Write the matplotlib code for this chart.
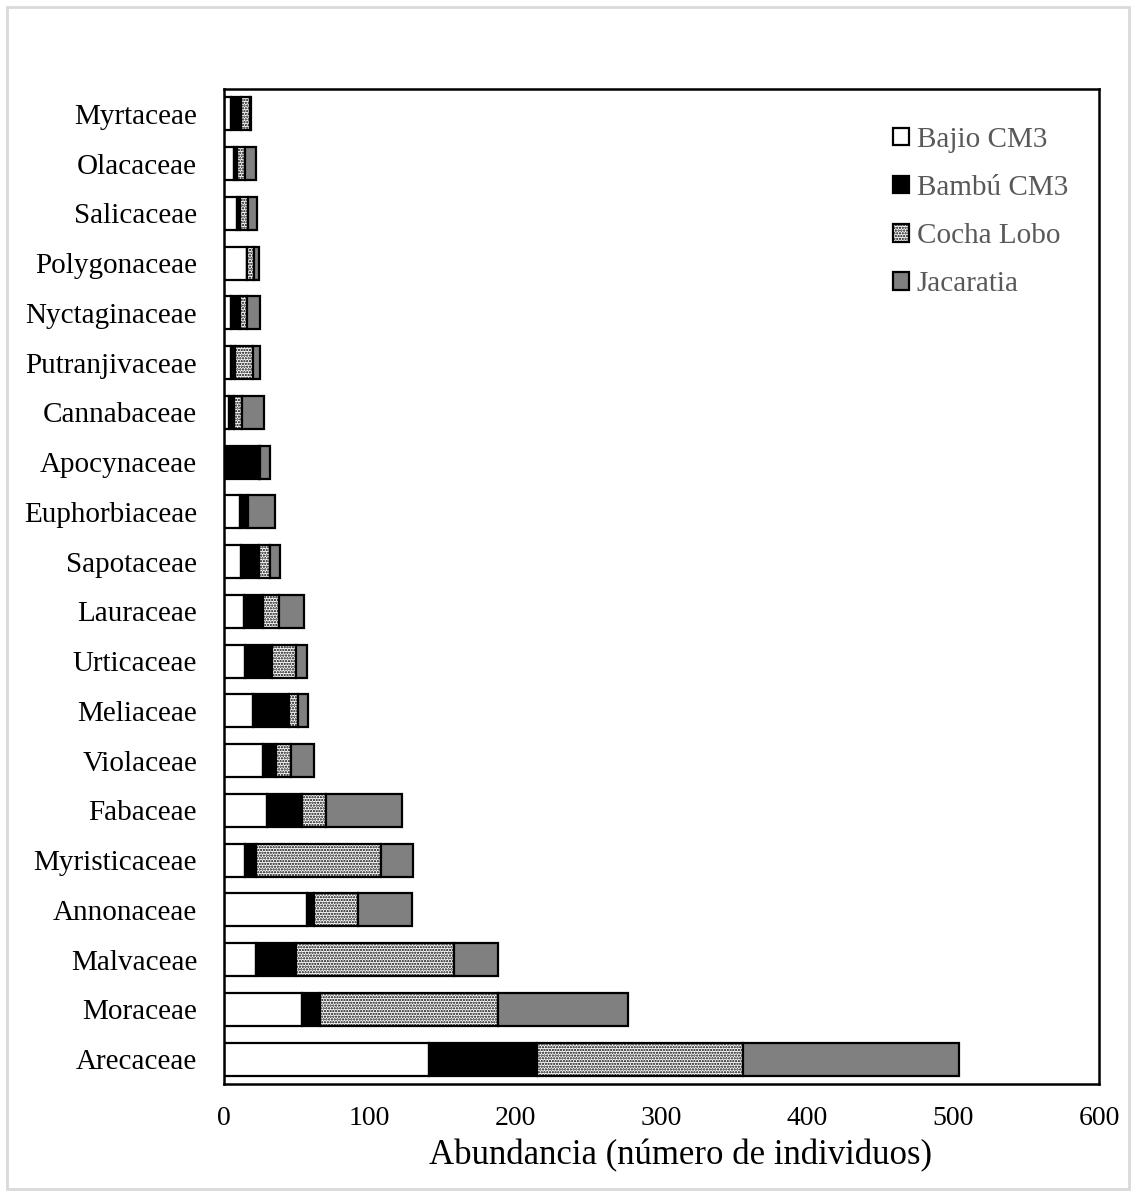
import matplotlib.pyplot as plt
import numpy as np
from matplotlib.patches import Rectangle

plt.rcParams['font.family'] = ['Liberation Serif', 'DejaVu Serif']
plt.rcParams['hatch.linewidth'] = 1.1

families = ['Myrtaceae', 'Olacaceae', 'Salicaceae', 'Polygonaceae', 'Nyctaginaceae',
            'Putranjivaceae', 'Cannabaceae', 'Apocynaceae', 'Euphorbiaceae', 'Sapotaceae',
            'Lauraceae', 'Urticaceae', 'Meliaceae', 'Violaceae', 'Fabaceae',
            'Myristicaceae', 'Annonaceae', 'Malvaceae', 'Moraceae', 'Arecaceae']

bajio = [5, 7, 9, 16, 5, 5, 4, 0, 11, 12, 14, 15, 20, 27, 30, 15, 57, 22, 54, 141]
bambu = [7, 2, 2, 0, 6, 3, 3, 24, 6, 12, 13, 18, 25, 9, 24, 7, 5, 28, 12, 74]
cocha = [6, 6, 6, 5, 5, 12, 6, 1, 0, 8, 11, 17, 6, 10, 16, 86, 30, 108, 122, 141]
jacaratia = [1, 7, 6, 3, 9, 5, 15, 7, 18, 7, 17, 7, 7, 16, 52, 22, 37, 30, 89, 148]

series = ['Bajio CM3', 'Bambú CM3', 'Cocha Lobo', 'Jacaratia']
values = [bajio, bambu, cocha, jacaratia]
colors = ['white', 'black', 'white', '#808080']
hatches = [None, None, '......', None]

fig = plt.figure(figsize=(11.36, 11.94), dpi=100)
fig.patches.append(Rectangle((7 / 1136, 5 / 1194), 1122 / 1136, 1182 / 1194,
                             transform=fig.transFigure, fill=False,
                             edgecolor='#d9d9d9', linewidth=2))
ax = fig.add_axes([223.5 / 1136, 110 / 1194, 875.5 / 1136, 995 / 1194])

y = np.arange(len(families))[::-1]
left = np.zeros(len(families))
for name, vals, col, h in zip(series, values, colors, hatches):
    vals = np.array(vals, dtype=float)
    ax.barh(y, vals, left=left, height=0.66, color=col, edgecolor='black',
            linewidth=1.6, hatch=h, label=name)
    left += vals

ax.set_xlim(0, 600)
ax.set_ylim(-0.5, len(families) - 0.5)
ax.set_yticks(y)
ax.set_yticklabels(families, fontsize=21)
ax.set_xticks(np.arange(0, 601, 100))
ax.tick_params(axis='x', labelsize=20, length=0, pad=16)
ax.tick_params(axis='y', length=0, pad=19)
for s in ax.spines.values():
    s.set_linewidth(1.8)
ax.set_xlabel('Abundancia (número de individuos)', fontsize=25)
ax.xaxis.set_label_coords(0.522, -0.055)

ax.legend(loc='upper left', bbox_to_anchor=(0.765, 0.962), frameon=False,
          borderaxespad=0, borderpad=0,
          fontsize=21, handlelength=0.55, handleheight=0.55, handletextpad=0.25,
          labelspacing=0.76, labelcolor='#595959')

fig.savefig('out.png', dpi=100)
